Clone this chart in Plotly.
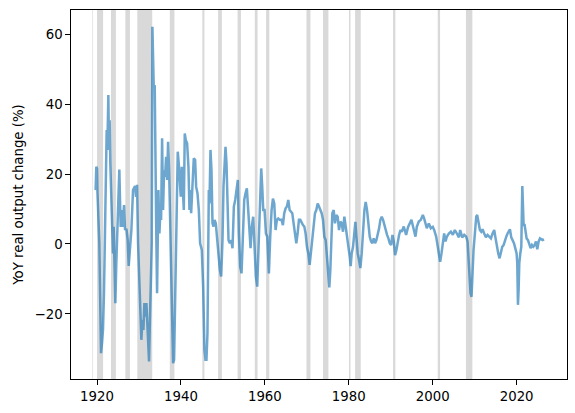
import plotly.graph_objects as go

# YoY real output change (%)
years = [
    1919.67, 1919.83, 1920.0, 1920.1, 1920.55, 1920.95, 1921.19, 1921.42, 1921.66, 1921.9,
    1922.06, 1922.3, 1922.46, 1922.7, 1922.86, 1923.01, 1923.17, 1923.41, 1923.65, 1923.81,
    1923.97, 1924.13, 1924.37, 1924.6, 1924.84, 1925.08, 1925.32, 1925.48, 1925.64, 1925.88,
    1926.12, 1926.44, 1926.68, 1927.0, 1927.31, 1927.55, 1927.87, 1928.19, 1928.58, 1929.06,
    1929.3, 1929.54, 1929.78, 1930.02, 1930.33, 1930.57, 1930.81, 1931.05, 1931.29, 1931.53,
    1931.77, 1932.0, 1932.24, 1932.4, 1932.56, 1932.72, 1932.88, 1933.04, 1933.2, 1933.36,
    1933.52, 1933.75, 1933.91, 1934.15, 1934.31, 1934.47, 1934.63, 1934.87, 1935.11, 1935.27,
    1935.51, 1935.74, 1935.98, 1936.22, 1936.46, 1936.7, 1936.94, 1937.18, 1937.42, 1937.65,
    1937.89, 1938.13, 1938.37, 1938.61, 1938.85, 1939.09, 1939.24, 1939.48, 1939.72, 1939.96,
    1940.2, 1940.44, 1940.68, 1940.91, 1941.15, 1941.47, 1941.79, 1942.03, 1942.19, 1942.43,
    1942.74, 1943.06, 1943.38, 1943.62, 1943.94, 1944.26, 1944.57, 1944.97, 1945.29, 1945.61,
    1945.85, 1946.08, 1946.32, 1946.48, 1946.64, 1946.8, 1947.04, 1947.28, 1947.52, 1947.76,
    1948.0, 1948.31, 1948.63, 1948.95, 1949.27, 1949.59, 1949.9, 1950.14, 1950.38, 1950.62,
    1950.86, 1951.1, 1951.34, 1951.65, 1951.97, 1952.29, 1952.61, 1952.93, 1953.25, 1953.56,
    1953.8, 1954.12, 1954.44, 1954.76, 1955.08, 1955.39, 1955.71, 1956.03, 1956.35, 1956.59,
    1956.9, 1957.22, 1957.54, 1957.86, 1958.18, 1958.5, 1958.81, 1959.13, 1959.37, 1959.61,
    1959.93, 1960.25, 1960.57, 1960.96, 1961.28, 1961.6, 1961.92, 1962.24, 1962.55, 1962.87,
    1963.19, 1963.51, 1963.99, 1964.3, 1964.62, 1964.94, 1965.26, 1965.58, 1965.9, 1966.21,
    1966.53, 1966.85, 1967.17, 1967.49, 1967.8, 1968.12, 1968.44, 1968.76, 1969.08, 1969.4,
    1969.71, 1970.03, 1970.35, 1970.67, 1970.99, 1971.3, 1971.62, 1971.94, 1972.26, 1972.58,
    1972.9, 1973.21, 1973.53, 1973.85, 1974.17, 1974.49, 1974.81, 1975.12, 1975.36, 1975.6,
    1975.84, 1976.08, 1976.4, 1976.71, 1977.03, 1977.35, 1977.67, 1977.99, 1978.31, 1978.62,
    1978.94, 1979.26, 1979.58, 1979.9, 1980.22, 1980.45, 1980.69, 1981.01, 1981.33, 1981.57,
    1981.81, 1982.12, 1982.44, 1982.76, 1983.08, 1983.4, 1983.72, 1984.03, 1984.35, 1984.67,
    1984.99, 1985.31, 1985.62, 1985.94, 1986.26, 1986.58, 1986.9, 1987.21, 1987.53, 1987.85,
    1988.17, 1988.49, 1988.81, 1989.12, 1989.44, 1989.76, 1990.08, 1990.4, 1990.72, 1991.03,
    1991.35, 1991.67, 1991.99, 1992.31, 1992.63, 1993.1, 1993.66, 1994.13, 1994.61, 1994.93,
    1995.41, 1995.89, 1996.21, 1996.68, 1997.16, 1997.64, 1997.95, 1998.27, 1998.59, 1999.07,
    1999.55, 2000.02, 2000.34, 2000.82, 2001.3, 2001.77, 2002.09, 2002.41, 2002.73, 2003.05,
    2003.37, 2003.84, 2004.32, 2004.8, 2005.27, 2005.75, 2006.23, 2006.55, 2007.02, 2007.5,
    2007.98, 2008.3, 2008.54, 2008.78, 2009.01, 2009.25, 2009.49, 2009.73, 2010.05, 2010.37,
    2010.6, 2010.92, 2011.24, 2011.56, 2011.87, 2012.27, 2012.67, 2013.07, 2013.47, 2013.87,
    2014.26, 2014.66, 2014.98, 2015.3, 2015.62, 2015.93, 2016.25, 2016.57, 2016.89, 2017.21,
    2017.53, 2017.84, 2018.16, 2018.4, 2018.72, 2019.04, 2019.36, 2019.67, 2019.99, 2020.15,
    2020.31, 2020.47, 2020.63, 2020.87, 2021.11, 2021.35, 2021.51, 2021.66, 2021.9, 2022.14,
    2022.38, 2022.7, 2023.01, 2023.33, 2023.65, 2023.97, 2024.29, 2024.61, 2024.92, 2025.24,
    2025.56, 2025.88, 2026.2, 2026.52,
]
yoy_change = [
    15.4, 22.1, 21.5, 15.0, 0.2, -31.2, -28.3, -24.6, -14.1, 9.7,
    25.9, 32.6, 26.9, 42.6, 26.9, 35.4, 23.0, 13.5, 2.1, -2.7,
    4.9, -7.4, -16.9, -5.5, 4.9, 13.5, 21.3, 12.6, 4.9, 9.7,
    4.9, 11.1, 4.0, 4.4, 1.1, -6.3, -1.7, 4.0, 15.4, 16.6,
    13.5, 16.9, 0.2, -9.3, -24.6, -27.4, -21.7, -24.6, -16.9, -20.8,
    -16.9, -22.7, -30.3, -33.6, -24.6, -16.9, -15.0, 0.2, 62.1, 55.4,
    44.9, 45.4, 15.4, 0.2, -14.1, 0.2, 15.4, 3.0, 9.7, 6.9,
    30.2, 9.7, 21.1, 19.2, 24.9, 18.3, 29.2, 21.1, 6.0, -9.3,
    -24.6, -34.1, -33.1, -18.8, 4.9, 19.2, 26.4, 23.0, 18.3, 13.5,
    22.1, 13.5, 9.7, 31.6, 29.7, 28.8, 22.1, 9.7, 15.4, 8.8,
    19.2, 24.5, 24.0, 16.4, 14.5, 9.7, 0.2, -1.7, -12.2, -30.3,
    -33.1, -33.1, -25.5, 3.0, 15.4, 11.6, 26.9, 21.1, 5.9, 5.0,
    6.9, 5.9, 1.1, -2.7, -7.4, -9.3, 1.1, 16.4, 24.9, 27.8,
    23.0, 14.5, 1.1, 0.2, 1.1, -1.2, 10.7, 12.6, 16.4, 18.3,
    3.0, -6.5, -8.4, 1.1, 12.6, 14.5, 15.9, 9.7, 1.1, -1.2,
    5.0, 7.8, -0.8, -9.3, -12.2, -1.7, 12.6, 21.6, 16.4, 9.7,
    9.7, 3.0, 2.1, -8.4, 2.1, 9.7, 13.0, 11.6, 4.0, 6.9,
    7.3, 6.9, 6.9, 5.4, 8.8, 10.2, 10.7, 12.6, 9.7, 9.2,
    8.8, 5.9, 2.1, 0.2, 3.0, 6.9, 6.9, 5.9, 5.4, 5.0,
    3.0, -0.8, -2.7, -6.0, -1.7, 2.1, 5.9, 8.8, 9.7, 11.6,
    10.7, 9.7, 8.8, 6.9, 2.1, 1.1, -3.6, -10.3, -12.4, -7.4,
    1.1, 8.8, 9.7, 5.9, 8.3, 7.8, 4.0, 6.4, 5.9, 3.5,
    7.8, 5.0, 2.1, 0.2, -3.6, -6.3, -2.7, -0.8, 3.0, 6.3,
    2.1, -2.7, -4.6, -6.9, -2.7, 4.0, 9.7, 12.0, 9.7, 5.9,
    2.1, 0.7, 0.2, 1.6, 0.2, 1.1, 2.6, 4.4, 6.9, 7.8,
    6.9, 5.4, 3.5, 2.6, 1.6, 0.2, -0.3, 2.6, 0.7, -3.2,
    -1.7, 0.7, 2.6, 4.0, 3.5, 5.0, 2.6, 4.9, 6.4, 6.9,
    4.5, 2.1, 4.9, 6.4, 6.9, 8.3, 7.3, 5.4, 4.5, 5.9,
    4.5, 4.9, 4.0, 2.1, -1.7, -5.1, -2.7, 1.1, 3.0, 0.7,
    2.1, 3.0, 3.5, 2.6, 4.0, 3.0, 1.9, 4.0, 1.9, 2.6,
    2.1, 0.7, -4.6, -10.3, -14.1, -15.1, -7.4, -1.7, 3.0, 7.8,
    8.3, 5.4, 4.0, 3.5, 4.2, 3.0, 1.9, 2.6, 2.1, 1.6,
    3.0, 4.0, 1.6, -0.8, -2.7, -4.1, -2.2, -0.8, -0.3, 1.1,
    2.1, 3.0, 3.5, 4.2, 1.9, 1.1, 0.2, -1.2, -2.7, -5.5,
    -17.4, -13.1, -5.5, -2.7, -0.8, 16.6, 9.7, 5.4, 5.4, 3.0,
    1.6, 1.1, 0.2, -1.2, -0.3, -0.8, -0.3, 0.7, -1.5, 0.7,
    1.6, 1.3, 1.1, 1.3,
]

# Recession periods (decimal years)
rec_start = [1918.9, 1920.0, 1923.33, 1926.75, 1929.6, 1937.35, 1945.1, 1948.85, 1953.5,
             1957.6, 1960.3, 1969.92, 1973.85, 1980.05, 1981.5, 1990.55, 2001.2, 2007.92]
rec_end = [1919.05, 1921.45, 1924.5, 1927.85, 1933.15, 1938.45, 1945.6, 1949.75, 1954.3,
           1958.25, 1961.05, 1970.85, 1975.15, 1980.4, 1982.85, 1991.1, 2001.75, 2009.45]

x_ticks = [1920, 1940, 1960, 1980, 2000, 2020]
y_ticks = [-20, 0, 20, 40, 60]

fig = go.Figure()

shapes = []
for s, e in zip(rec_start, rec_end):
    shapes.append(dict(type="rect", xref="x", yref="paper", x0=s, x1=e, y0=0, y1=1,
                       fillcolor="#808080", opacity=0.3, line=dict(width=0), layer="below"))

fig.add_trace(go.Scatter(
    x=years, y=yoy_change, mode="lines",
    line=dict(color="rgba(31,119,180,0.65)", width=2.5),
    showlegend=False, hoverinfo="skip",
))

font = dict(family="DejaVu Sans", size=13.3, color="black")
axis_common = dict(
    showgrid=False, zeroline=False, showline=True, linecolor="black", linewidth=1,
    mirror=True, ticks="outside", ticklen=4.7, tickwidth=1, tickcolor="black",
    tickfont=font,
)
fig.update_layout(
    width=575, height=413,
    margin=dict(l=71, r=8, t=10, b=34),
    paper_bgcolor="white", plot_bgcolor="white",
    font=font,
    shapes=shapes,
    xaxis=dict(range=[1913.8, 2032.0], tickvals=x_ticks, **axis_common),
    yaxis=dict(range=[-38.6, 66.9], tickvals=y_ticks,
               title=dict(text="YoY real output change (%)", font=font, standoff=7),
               **axis_common),
)

fig.write_html(
    "out.html",
    config={"displayModeBar": False},
    post_script="document.body.style.margin='0';document.body.style.overflow='hidden';",
)
